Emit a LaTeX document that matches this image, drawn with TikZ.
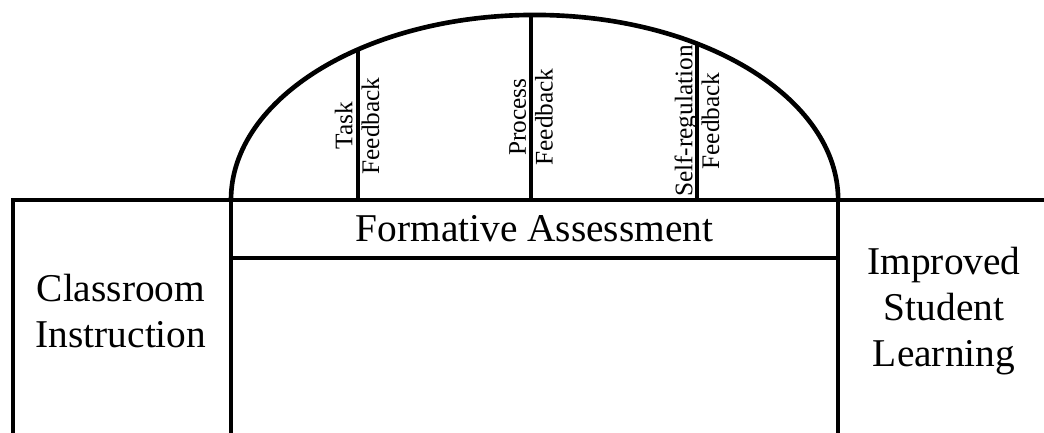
\documentclass[tikz,border=0pt]{standalone}
\usepackage{fontspec}
\setmainfont{Liberation Serif}

\begin{document}
\begin{tikzpicture}[
  x=0.025cm,y=0.025cm,
  wall/.style={line width=3.3pt},
  bigtext/.style={
    align=center,
    font=\fontsize{28}{33}\selectfont
  },
  tagtext/.style={
    align=center,
    rotate=90,
    inner sep=0pt,
    font=\fontsize{18}{19}\selectfont
  }
]
\useasboundingbox (0,0) rectangle (1044,433);
\coordinate (ctr) at (534.5,233);
% pillars and lintel
\draw[wall] (13,0) -- (13,233) -- (1044,233);
\draw[wall] (231,0) -- (231,233);
\draw[wall] (838,0) -- (838,233);
\draw[wall] (231,175) -- (838,175);
% arch
\draw[wall] (231,233) arc[start angle=180,end angle=0,x radius=7.5875cm,y radius=4.625cm];
\begin{scope}
  \clip (ctr) ellipse [x radius=7.5875cm,y radius=4.625cm];
  \foreach \xx in {358,531,697}
    \draw[wall] (\xx,233) -- (\xx,433);
\end{scope}
% labels
\node[tagtext] (task) at (357,307) {Task\\Feedback};
\node[tagtext] (process) at (531,316) {Process\\Feedback};
\node[tagtext] (selfreg) at (697,312) {Self-regulation\\Feedback};
\node[bigtext] (formative) at (534.5,204) {Formative Assessment};
\node[bigtext] (classroom) at (121,122) {Classroom\\Instruction};
\node[bigtext] (improved) at (944,122) {Improved\\Student\\Learning};
\end{tikzpicture}
\end{document}
